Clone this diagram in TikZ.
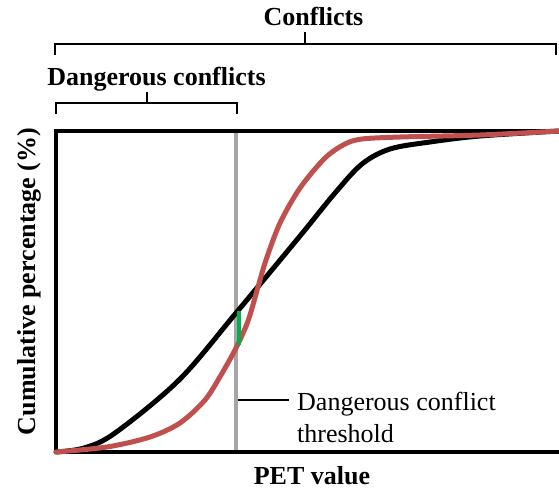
\documentclass[tikz,border=0pt]{standalone}
\usepackage{fontspec}
\setmainfont{Liberation Serif}
\newfontfamily\figserif{Liberation Serif}
\definecolor{curvered}{RGB}{192,80,77}
\definecolor{threshgray}{RGB}{166,166,166}
\definecolor{diffgreen}{RGB}{0,176,80}
\begin{document}
\begin{tikzpicture}[x=1pt,y=-1pt,
  lbl/.style={inner sep=0pt,font=\figserif\fontsize{26}{30}\selectfont},
  boldlbl/.style={inner sep=0pt,font=\figserif\fontsize{26}{30}\selectfont\bfseries},
  bracket/.style={line width=1.8pt},
  axisline/.style={line width=4pt},
  curve/.style={line width=5pt,line cap=round,line join=round}]
\useasboundingbox (0,0) rectangle (559,490);
% axes (open box)
\coordinate (tr) at (562,131);
\coordinate (tl) at (56,131);
\coordinate (bl) at (56,452);
\coordinate (br) at (562,452);
\draw[axisline] (tr) -- (tl) -- (bl) -- (br);
% threshold line
\coordinate (thtop) at (236,133);
\coordinate (thbot) at (236,450);
\draw[threshgray,line width=3.5pt] (thtop) -- (thbot);
% black curve
\draw[curve,black] plot[smooth,tension=0.55] coordinates {
 (56,452) (84,448) (115,433) (179,380)
 (236,313) (300,236) (335,193) (362,164) (390,149)
 (430,142) (480,136) (559,131)};
% red curve
\draw[curve,curvered] plot[smooth,tension=0.5] coordinates {
 (56,452) (107,447) (150,437) (180,423) (205,400) (221,375) (236,348)
 (248,321) (258,287) (266,260) (280,223) (300,188) (325,158) (345,144)
 (362,139) (400,137) (480,135) (559,131)};
% green difference
\coordinate (gtop) at (238.8,311);
\coordinate (gbot) at (238.8,345);
\draw[diffgreen,line width=3.5pt] (gtop) -- (gbot);
% threshold label
\node[lbl,anchor=base west] (thlabel) at (297,410) {Dangerous conflict};
\node[lbl,anchor=base west] (thlabel2) at (297,442) {threshold};
\coordinate (leadA) at (237.5,400);
\coordinate (leadB) at (289,400);
\draw[line width=1.8pt] (leadA) -- (leadB);
% brackets
\node[boldlbl,anchor=base] (conf) at (313.5,25) {Conflicts};
\draw[bracket] (55,55) -- (55,44) -- (556,44) -- (556,55);
\coordinate (cmid) at (305,44);
\coordinate (ctop) at (305,32);
\draw[bracket] (cmid) -- (ctop);
\node[boldlbl,anchor=base] (dconf) at (156.5,85) {Dangerous conflicts};
\draw[bracket] (56,114) -- (56,103) -- (237,103) -- (237,114);
\coordinate (dmid) at (147,103);
\coordinate (dtop) at (147,92);
\draw[bracket] (dmid) -- (dtop);
% axis labels
\node[boldlbl,anchor=base] (xlab) at (312,484) {PET value};
\node[boldlbl,anchor=base,rotate=90] (ylab) at (35,281.5) {Cumulative percentage (\%)};
\end{tikzpicture}
\end{document}
